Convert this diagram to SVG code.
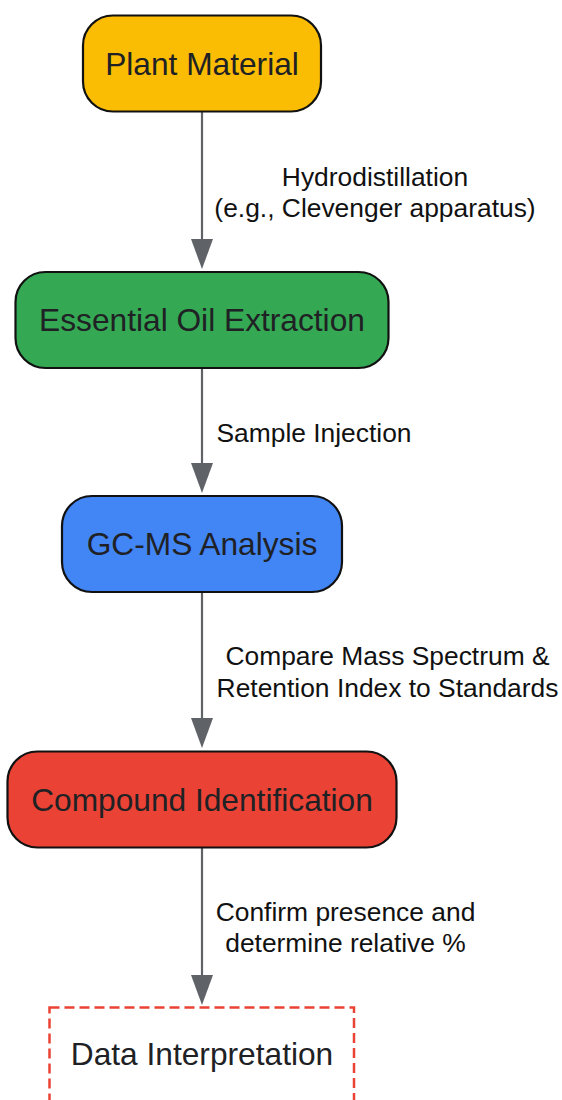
<svg xmlns="http://www.w3.org/2000/svg" width="562" height="1100" viewBox="0 0 562 1100">
<defs>
<style>
.node{stroke:#111;stroke-width:2.2}
.nt{font-family:"Liberation Sans",Arial,sans-serif;font-size:31.7px;fill:#202124;text-anchor:middle}
.lt{font-family:"Liberation Sans",Arial,sans-serif;font-size:26.4px;fill:#111;text-anchor:middle}
.edge{stroke:#5f6368;stroke-width:2.2;fill:none;marker-end:url(#ah)}
</style>
<marker id="ah" markerUnits="userSpaceOnUse" markerWidth="30" markerHeight="22" refX="0" refY="11" viewBox="0 0 30 22" orient="auto">
<path d="M0,0 L30,11 L0,22 Z" fill="#5f6368"/>
</marker>
</defs>
<rect width="562" height="1100" fill="#fff"/>
<g id="connectors">
<line class="edge" x1="202" y1="112" x2="202" y2="239"/>
<line class="edge" x1="202" y1="368" x2="202" y2="463"/>
<line class="edge" x1="202" y1="592" x2="202" y2="718"/>
<line class="edge" x1="202" y1="848" x2="202" y2="975"/>
<text class="lt" x="375" y="185.5">Hydrodistillation</text>
<text class="lt" x="375" y="216.5">(e.g., Clevenger apparatus)</text>
<text class="lt" x="314" y="441.5">Sample Injection</text>
<text class="lt" x="387.5" y="665">Compare Mass Spectrum &amp;</text>
<text class="lt" x="387.5" y="696.5">Retention Index to Standards</text>
<text class="lt" x="345.5" y="920.5">Confirm presence and</text>
<text class="lt" x="345.5" y="951.5">determine relative %</text>
</g>
<g id="plant-material">
<rect class="node" x="83" y="15.5" width="238" height="96" rx="30" fill="#fbbc04"/>
<text class="nt" x="202" y="75">Plant Material</text>
</g>
<g id="essential-oil-extraction">
<rect class="node" x="15.5" y="272" width="373" height="96" rx="30" fill="#34a853"/>
<text class="nt" x="202" y="331">Essential Oil Extraction</text>
</g>
<g id="gc-ms-analysis">
<rect class="node" x="62" y="496" width="280" height="96" rx="30" fill="#4285f4"/>
<text class="nt" x="202" y="555">GC-MS Analysis</text>
</g>
<g id="compound-identification">
<rect class="node" x="7.5" y="751.5" width="389" height="96" rx="30" fill="#ea4335"/>
<text class="nt" x="202" y="811">Compound Identification</text>
</g>
<g id="data-interpretation">
<rect x="49.5" y="1007.5" width="304.5" height="96" fill="#fff" stroke="#ea4335" stroke-width="2.5" stroke-dasharray="10,5"/>
<text class="nt" x="202" y="1065">Data Interpretation</text>
</g>
</svg>
